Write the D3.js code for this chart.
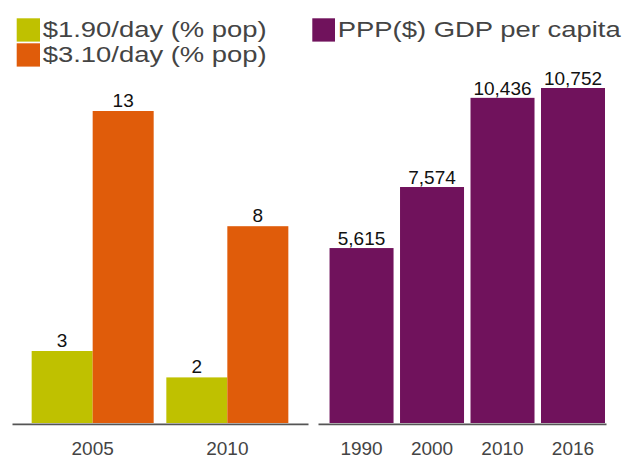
<!DOCTYPE html>
<html>
<head>
<meta charset="utf-8">
<script src="https://cdn.jsdelivr.net/npm/d3@7"></script>
<style>
	html, body { margin: 0; padding: 0; background: #fff; }
	svg { display: block; font-family: "Liberation Sans", Arial, sans-serif; }
</style>
</head>
<body>
<div id="grafico"></div>
<script>
var width = 624;
var height = 456;

// dados do painel da esquerda (pobreza)
var anosPobreza = ["2005", "2010"];
var series = ["$1.90/day (% pop)", "$3.10/day (% pop)"];
var valores190 = [3.0, 1.9];
var valores310 = [13.0, 8.2];

// dados do painel da direita (PIB per capita)
var anosPib = ["1990", "2000", "2010", "2016"];
var valoresPib = [5615, 7574, 10436, 10752];
var tituloPib = "PPP($) GDP per capita";

var cores = ["#bfc100", "#e05c0a"];
var corPib = "#70125c";

const svg = d3.select("#grafico").append("svg")
	.attr("width", width)
	.attr("height", height);

const base = 423;
const fmt = d3.format(",");

// Painel esquerdo
const x0 = d3.scaleBand().domain(anosPobreza).range([12, 308])
	.paddingInner(0.094).paddingOuter(0.146);
const x1 = d3.scaleBand().domain([0, 1]).range([0, x0.bandwidth()]);
const yEsq = d3.scaleLinear().domain([0, 13]).range([base, 111]);

const dadosEsq = [];
anosPobreza.forEach((ano, i) => {
	dadosEsq.push({ ano: ano, s: 0, v: valores190[i] });
	dadosEsq.push({ ano: ano, s: 1, v: valores310[i] });
});

svg.append("g").selectAll("rect")
	.data(dadosEsq)
	.enter().append("rect")
	.attr("x", d => x0(d.ano) + x1(d.s))
	.attr("y", d => yEsq(d.v))
	.attr("width", x1.bandwidth())
	.attr("height", d => base - yEsq(d.v))
	.attr("fill", d => cores[d.s]);

svg.append("g").selectAll("text")
	.data(dadosEsq)
	.enter().append("text")
	.attr("x", d => x0(d.ano) + x1(d.s) + x1.bandwidth() / 2)
	.attr("y", d => yEsq(d.v) - 4)
	.attr("text-anchor", "middle")
	.attr("font-size", "19px")
	.attr("fill", "#111")
	.text(d => Math.round(d.v));

// Painel direito
const xDir = d3.scaleBand().domain(anosPib).range([318, 606])
	.paddingInner(0.092).paddingOuter(0.089).align(0.92);
const yDir = d3.scaleLinear().domain([0, 10752]).range([base, 88]);

svg.append("g").selectAll("rect")
	.data(anosPib)
	.enter().append("rect")
	.attr("x", d => xDir(d))
	.attr("y", (d, i) => yDir(valoresPib[i]))
	.attr("width", xDir.bandwidth())
	.attr("height", (d, i) => base - yDir(valoresPib[i]))
	.attr("fill", corPib);

svg.append("g").selectAll("text")
	.data(anosPib)
	.enter().append("text")
	.attr("x", d => xDir(d) + xDir.bandwidth() / 2)
	.attr("y", (d, i) => yDir(valoresPib[i]) - 3)
	.attr("text-anchor", "middle")
	.attr("font-size", "19px")
	.attr("fill", "#111")
	.text((d, i) => fmt(valoresPib[i]));

// eixos
function estilizarEixo(g) {
	g.select(".domain").attr("stroke", "#555").attr("stroke-width", 1.7);
	g.selectAll("text").attr("font-size", "19px").attr("fill", "#444")
		.attr("font-family", "Liberation Sans, Arial, sans-serif");
}

svg.append("g")
	.attr("transform", `translate(0,${base + 0.8})`)
	.call(d3.axisBottom(x0).tickSize(0).tickPadding(18))
	.call(estilizarEixo);

svg.append("g")
	.attr("transform", `translate(0,${base + 0.8})`)
	.call(d3.axisBottom(xDir).tickSize(0).tickPadding(18))
	.call(estilizarEixo);

// Legendas
const legenda = svg.append("g");
const larguras = [224, 224];
series.forEach((s, i) => {
	legenda.append("rect")
		.attr("x", 16.7).attr("y", 18.3 + i * 25)
		.attr("width", 23.3).attr("height", 23.3)
		.attr("fill", cores[i]);
	legenda.append("text")
		.attr("x", 42.7).attr("y", 37 + i * 25.3)
		.attr("font-size", "22.5px")
		.attr("fill", "#444")
		.attr("textLength", larguras[i])
		.attr("lengthAdjust", "spacingAndGlyphs")
		.text(s);
});

legenda.append("rect")
	.attr("x", 312.3).attr("y", 18.3)
	.attr("width", 22.7).attr("height", 23.3)
	.attr("fill", corPib);
legenda.append("text")
	.attr("x", 337.7).attr("y", 37)
	.attr("font-size", "22.5px")
	.attr("fill", "#444")
	.attr("textLength", 283)
	.attr("lengthAdjust", "spacingAndGlyphs")
	.text(tituloPib);
</script>
</body>
</html>
